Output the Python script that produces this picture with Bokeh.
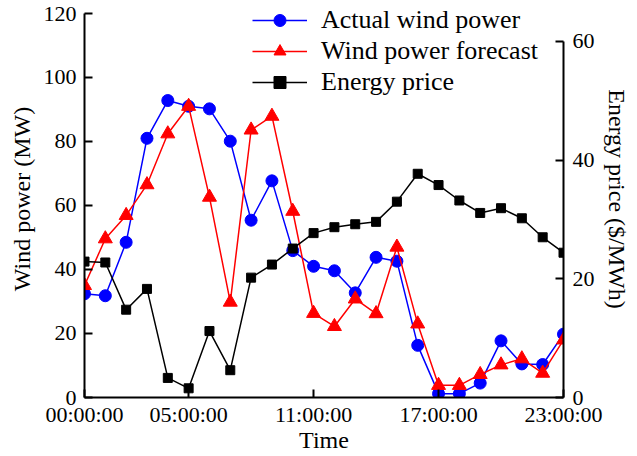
from bokeh.plotting import figure
from bokeh.models import Range1d, LinearAxis, FixedTicker
from bokeh.embed import file_html
from bokeh.resources import INLINE

# ---- data ----
hours = list(range(24))
x_tick_vals = [0, 5, 11, 17, 23]
x_tick_labels = ["00:00:00", "05:00:00", "11:00:00", "17:00:00", "23:00:00"]
left_ticks = [0, 20, 40, 60, 80, 100, 120]
right_ticks = [0, 20, 40, 60]

actual_wind = [32.4, 31.8, 48.5, 81.0, 92.8, 91.0, 90.2, 80.1, 55.4, 67.7, 45.9, 41.0,
               39.6, 32.7, 43.8, 42.6, 16.3, 1.2, 1.2, 4.5, 17.7, 10.5, 10.3, 19.8]
forecast_wind = [35.0, 49.6, 56.9, 66.5, 82.4, 91.0, 62.6, 29.8, 83.6, 87.9, 58.2, 26.3,
                 22.2, 30.8, 26.2, 47.0, 23.0, 3.8, 3.8, 7.2, 10.2, 12.1, 7.6, 18.0]
energy_price = [22.9, 22.75, 14.8, 18.3, 3.3, 1.55, 11.2, 4.6, 20.2, 22.4, 25.1, 27.7,
                28.7, 29.2, 29.6, 33.0, 37.7, 35.8, 33.2, 31.1, 31.9, 30.2, 27.0, 24.4]

FONT = "Liberation Serif"

p = figure(width=637, height=456, output_backend="svg", toolbar_location=None,
           x_range=Range1d(0, 23), y_range=Range1d(0, 124.06),
           min_border_left=84, min_border_right=74, min_border_top=0, min_border_bottom=59)
p.outline_line_color = None
p.xgrid.visible = False
p.ygrid.visible = False
p.background_fill_color = "white"
p.border_fill_color = "white"

p.extra_y_ranges = {"price": Range1d(0, 66.9)}

# series
p.line(hours, actual_wind, line_color="#0000FF", line_width=1.5, legend_label="Actual wind power")
p.scatter(hours, actual_wind, marker="circle", size=12, fill_color="#0000FF", line_color="#0000FF",
          legend_label="Actual wind power")
p.line(hours, forecast_wind, line_color="#FF0000", line_width=1.5, legend_label="Wind power forecast")
p.scatter(hours, forecast_wind, marker="triangle", size=14, fill_color="#FF0000", line_color="#FF0000",
          legend_label="Wind power forecast")
p.line(hours, energy_price, line_color="black", line_width=1.5, y_range_name="price",
       legend_label="Energy price")
p.scatter(hours, energy_price, marker="square", size=9, fill_color="black", line_color="black",
          y_range_name="price", legend_label="Energy price")

def style_axis(ax):
    ax.axis_line_width = 2
    ax.axis_line_color = "black"
    ax.major_tick_line_width = 2
    ax.major_tick_in = 8
    ax.major_tick_out = 0
    ax.minor_tick_line_color = None
    ax.major_label_text_font = FONT
    ax.major_label_text_font_size = "22px"
    ax.major_label_text_color = "black"
    ax.axis_label_text_font = FONT
    ax.axis_label_text_font_size = "24px"
    ax.axis_label_text_font_style = "normal"
    ax.axis_label_text_color = "black"

xa = p.xaxis[0]
style_axis(xa)
xa.ticker = FixedTicker(ticks=x_tick_vals)
xa.major_label_overrides = {v: s for v, s in zip(x_tick_vals, x_tick_labels)}
xa.axis_label = "Time"
xa.major_label_standoff = 4
xa.axis_label_standoff = -3

ya = p.yaxis[0]
style_axis(ya)
ya.ticker = FixedTicker(ticks=left_ticks)
ya.bounds = (0, 120)
ya.axis_label = "Wind power (MW)"
ya.major_label_standoff = 8
ya.axis_label_standoff = 6

ra = LinearAxis(y_range_name="price", ticker=FixedTicker(ticks=right_ticks), bounds=(0, 60))
style_axis(ra)
ra.axis_label = "Energy price ($/MWh)"
ra.major_label_standoff = 9
ra.axis_label_standoff = 6
p.add_layout(ra, "right")

lg = p.legend[0]
lg.location = (168, 300)
lg.padding = 0
lg.margin = 0
lg.spacing = 0
lg.border_line_color = None
lg.background_fill_alpha = 0
lg.glyph_width = 55
lg.glyph_height = 30
lg.label_height = 31
lg.label_standoff = 14
lg.label_text_font = FONT
lg.label_text_font_size = "26px"
lg.label_text_color = "black"

open("out.html", "w").write(file_html(p, INLINE))
